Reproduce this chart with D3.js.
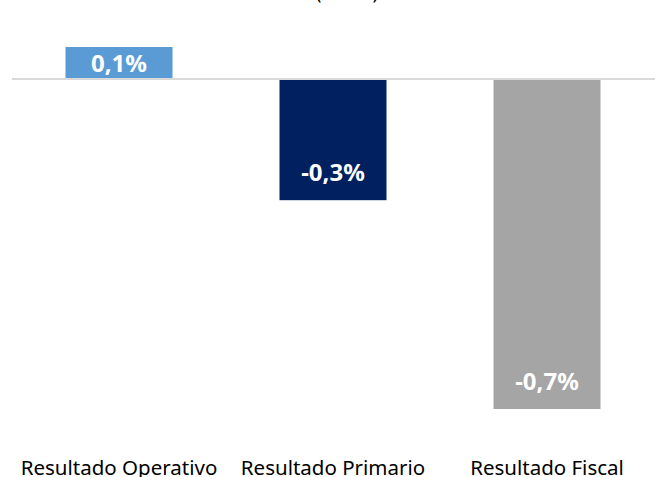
<!DOCTYPE html>
<html>
<head>
<meta charset="utf-8">
<script src="https://cdn.jsdelivr.net/npm/d3@7"></script>
<style>
  body { margin: 0; background: #fff; }
  text { font-family: "Noto Sans", "Open Sans", sans-serif; }
</style>
</head>
<body>
<div id="chart"></div>
<script>
// data
const categories = ["Resultado Operativo", "Resultado Primario", "Resultado Fiscal"];
const values = [0.068, -0.257, -0.70];
const valueLabels = ["0,1%", "-0,3%", "-0,7%"];
const colors = ["#5B9BD5", "#002060", "#A5A5A5"];
const title = "(% PIB)";

let width = 660, height = 477;

let svg = d3.select("#chart")
    .append("svg")
    .attr("width", width)
    .attr("height", height);

const x = d3.scaleBand()
    .domain(categories)
    .range([12, 654])
    .paddingInner(0.5)
    .paddingOuter(0.25);

const y = d3.scaleLinear()
    .domain([-0.70, 0.068])
    .range([409, 47]);

// title, mostly above the top edge
svg.append("text")
    .attr("x", 347)
    .attr("y", -1)
    .attr("text-anchor", "middle")
    .style("font-size", "19px")
    .attr("fill", "#000")
    .text(title);

const data = categories.map((c, i) => ({ cat: c, v: values[i], label: valueLabels[i], color: colors[i] }));

svg.selectAll("rect.bar")
    .data(data)
    .enter()
    .append("rect")
    .attr("class", "bar")
    .attr("x", d => x(d.cat))
    .attr("width", x.bandwidth())
    .attr("y", d => y(Math.max(0, d.v)))
    .attr("height", d => Math.abs(y(d.v) - y(0)))
    .attr("fill", d => d.color);

// zero line
svg.append("line")
    .attr("x1", 12)
    .attr("x2", 655)
    .attr("y1", y(0))
    .attr("y2", y(0))
    .attr("stroke", "#d9d9d9")
    .attr("stroke-width", 2);

// value labels
svg.selectAll("text.val")
    .data(data)
    .enter()
    .append("text")
    .attr("class", "val")
    .attr("x", d => x(d.cat) + x.bandwidth() / 2)
    .attr("y", d => d.v >= 0 ? (y(d.v) + y(0)) / 2 + 9 : y(d.v) - 19)
    .attr("text-anchor", "middle")
    .attr("fill", "#fff")
    .style("font-size", "24px")
    .style("font-weight", "bold")
    .text(d => d.label);

// category axis labels
const xAxis = d3.axisBottom(x).tickSize(0).tickPadding(0);
const ax = svg.append("g")
    .attr("transform", "translate(0,455)")
    .call(xAxis);
ax.select(".domain").remove();
ax.selectAll("text")
    .attr("dy", "0")
    .attr("y", 20)
    .style("font-size", "20.5px")
    .attr("fill", "#000");
</script>
</body>
</html>
